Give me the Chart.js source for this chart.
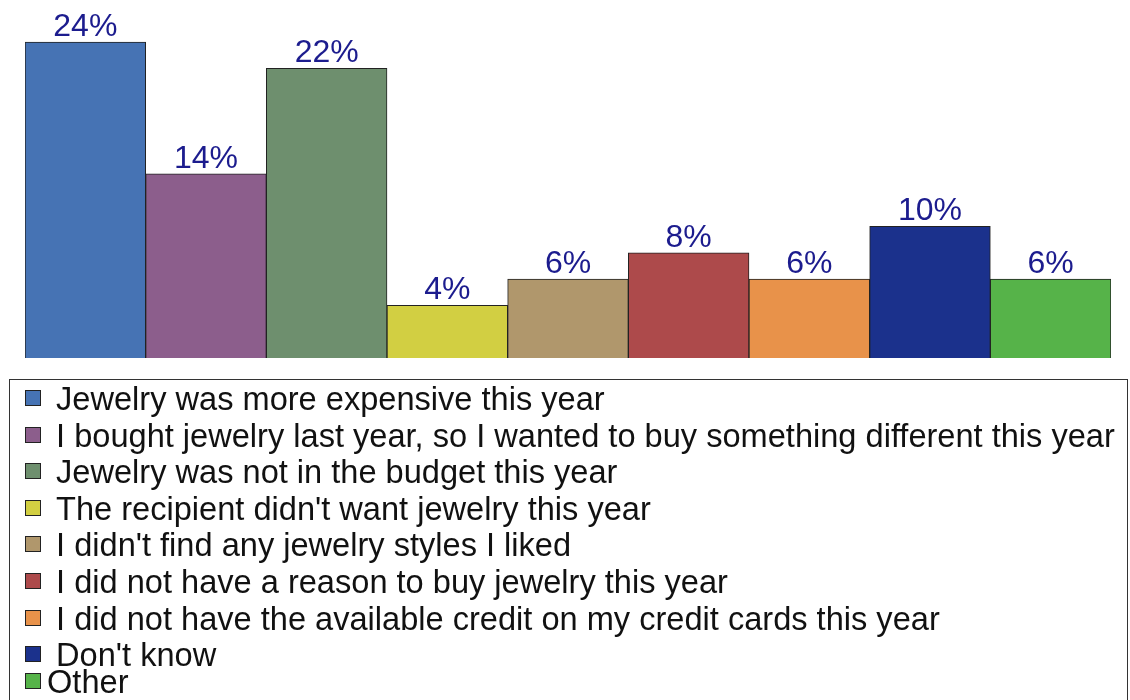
<!DOCTYPE html>
<html>
<head>
<meta charset="utf-8">
<title>Reasons for not buying jewelry</title>
<script src="https://cdn.jsdelivr.net/npm/chart.js@4.4.1/dist/chart.umd.min.js"></script>
<style>
  html, body { margin: 0; padding: 0; background: #fff; }
  #reasonChart { display: block; }
</style>
</head>
<body>
<canvas id="reasonChart" width="1130" height="700"></canvas>
<script>
// categories as shown in the legend (leading space kept as in the source labels)
const categories = [
  ' Jewelry was more expensive this year',
  ' I bought jewelry last year, so I wanted to buy something different this year',
  ' Jewelry was not in the budget this year',
  " The recipient didn't want jewelry this year",
  " I didn't find any jewelry styles I liked",
  ' I did not have a reason to buy jewelry this year',
  ' I did not have the available credit on my credit cards this year',
  " Don't know",
  'Other'
];
const percents = [24, 14, 22, 4, 6, 8, 6, 10, 6];
const barColors = [
  '#4673b4', '#8c5e8c', '#6e8f6e', '#d2cf42', '#b0976c',
  '#ad4a4b', '#e8924a', '#1b318c', '#56b349'
];

// percentage labels above each bar
const valueLabels = {
  id: 'valueLabels',
  afterDatasetsDraw(chart) {
    const ctx = chart.ctx;
    const meta = chart.getDatasetMeta(0);
    ctx.save();
    ctx.font = '32px "Liberation Sans", Arial, sans-serif';
    ctx.fillStyle = '#1c1c8e';
    ctx.textAlign = 'center';
    ctx.textBaseline = 'alphabetic';
    meta.data.forEach((bar, i) => {
      ctx.fillText(percents[i] + '%', bar.x, bar.y - 6);
    });
    ctx.restore();
  }
};

// boxed legend below the bars, one row per category
const boxLegend = {
  id: 'boxLegend',
  afterDraw(chart, args, opts) {
    const ctx = chart.ctx;
    ctx.save();
    ctx.strokeStyle = '#333';
    ctx.lineWidth = 1;
    ctx.strokeRect(9.5, opts.top + 0.5, chart.width - 12, chart.height);
    ctx.font = '32.6px "Liberation Sans", Arial, sans-serif';
    ctx.textBaseline = 'middle';
    ctx.textAlign = 'left';
    categories.forEach((label, i) => {
      let cy = opts.firstRow + i * opts.pitch;
      if (i === categories.length - 1) cy -= opts.lastRowPull;
      const s = 16;
      ctx.fillStyle = barColors[i];
      ctx.fillRect(25, Math.round(cy - s / 2), s, s);
      ctx.strokeStyle = '#222';
      ctx.strokeRect(25.5, Math.round(cy - s / 2) + 0.5, s - 1, s - 1);
      ctx.fillStyle = '#111';
      ctx.fillText(label, 47, cy + 3);
    });
    ctx.restore();
  }
};

new Chart(document.getElementById('reasonChart'), {
  type: 'bar',
  data: {
    labels: categories,
    datasets: [{
      data: percents,
      backgroundColor: barColors,
      borderColor: '#222',
      borderWidth: 1,
      categoryPercentage: 1,
      barPercentage: 1
    }]
  },
  options: {
    responsive: false,
    animation: false,
    layout: { padding: { left: 25, right: 19, top: 0, bottom: 342 } },
    scales: {
      x: { display: false },
      y: { display: false, min: 0, max: 27.2 }
    },
    plugins: {
      legend: { display: false },
      tooltip: { enabled: false },
      boxLegend: { top: 379, firstRow: 398, pitch: 36.6, lastRowPull: 9.6 }
    }
  },
  plugins: [valueLabels, boxLegend]
});
</script>
</body>
</html>
